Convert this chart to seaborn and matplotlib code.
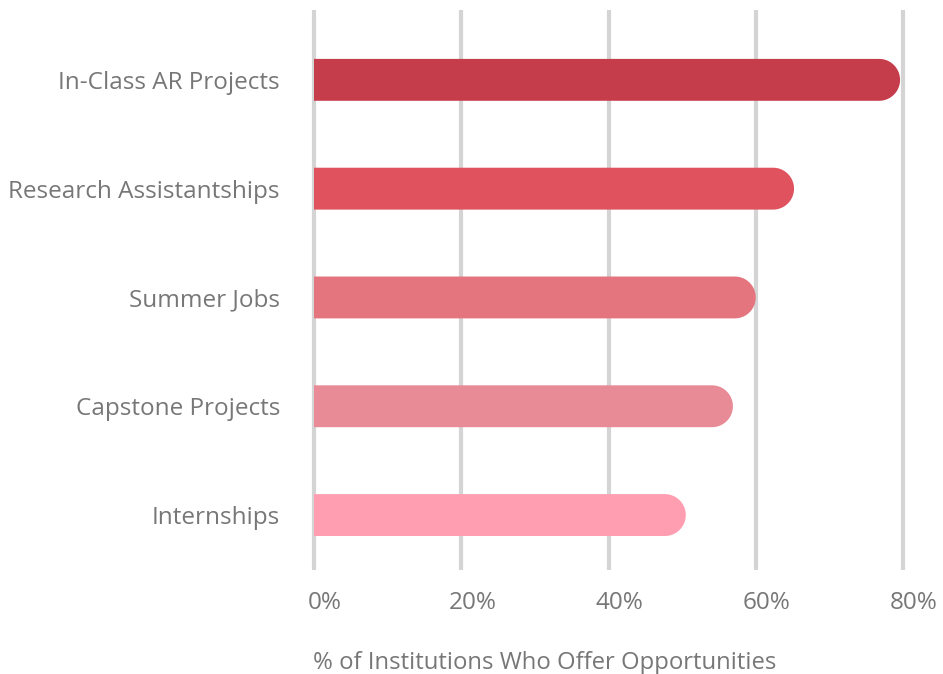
import numpy as np
import seaborn as sns
import matplotlib.pyplot as plt
import matplotlib.transforms as mtransforms
from matplotlib.patches import Polygon
import pandas as pd

# values
categories = [
    'In-Class AR Projects',
    'Research Assistantships',
    'Summer Jobs',
    'Capstone Projects',
    'Internships',
]
values = [79.6, 65.2, 60.0, 56.9, 50.5]
colors = ['#c53c4b', '#df525e', '#e4757f', '#e98b96', '#ff9eb0']
ticks = [0, 20, 40, 60, 80]

df = pd.DataFrame({'category': categories, 'value': values})

sns.set_theme(style='white')
plt.rcParams['font.family'] = ['Open Sans', 'DejaVu Sans']
text_color = '#777777'

fig = plt.figure(figsize=(9.43, 6.74), dpi=100)
ax = fig.add_axes([314 / 943, 1 - 570 / 674, (903 - 314) / 943, 560 / 674])

bar_h = 0.385
sns.barplot(data=df, x='value', y='category', hue='category', palette=colors,
            legend=False, width=bar_h, saturation=1, ax=ax, zorder=3)

ax.set_xlim(0, 80)
ax.set_ylim(4.505, -0.642)
ax.set_xticks(ticks)
ax.set_xticklabels([f'{t}%' for t in ticks])
ax.grid(axis='x', color='#d4d4d4', linewidth=3, zorder=0)
ax.grid(axis='y', visible=False)
ax.set_axisbelow(True)
for gl in ax.xaxis.get_gridlines():
    gl.set_clip_on(False)
    gl.set_solid_capstyle('butt')
for s in ax.spines.values():
    s.set_visible(False)
ax.tick_params(axis='both', length=0, labelsize=17.5, labelcolor=text_color)
ax.tick_params(axis='y', pad=24.5)
ax.tick_params(axis='x', pad=15)
ax.set_ylabel('')
ax.set_xlabel('')
fig.text(545 / 943, 1 - 663 / 674, '% of Institutions Who Offer Opportunities',
         fontsize=17.2, color=text_color, ha='center', va='center')

# shift x tick labels slightly right like the original
offset = mtransforms.ScaledTranslation(11 / 100, 0, fig.dpi_scale_trans)
for lbl in ax.get_xticklabels():
    lbl.set_transform(lbl.get_transform() + offset)

# round the right end of each bar (circle in pixels, ellipse in data units)
fig.canvas.draw()
px_per_unit_y = abs(ax.transData.transform((0, 1))[1] - ax.transData.transform((0, 0))[1])
px_per_unit_x = abs(ax.transData.transform((1, 0))[0] - ax.transData.transform((0, 0))[0])
theta = np.linspace(-np.pi / 2, np.pi / 2, 60)
bars = list(ax.patches)
for p, c in zip(bars, colors):
    w = p.get_width()
    y0 = p.get_y()
    h = p.get_height()
    yc = y0 + h / 2
    r_x = (h / 2) * px_per_unit_y / px_per_unit_x
    cx = w - r_x
    # arc goes from y0 + h (theta=-pi/2) round the right end to y0
    arc = np.column_stack([cx + r_x * np.cos(theta), yc - (h / 2) * np.sin(theta)])
    pts = np.vstack([[[0, y0 + h]], arc, [[0, y0]]])
    p.set_visible(False)
    ax.add_patch(Polygon(pts, closed=True, facecolor=c, edgecolor='none', zorder=3))

fig.savefig('out.png', dpi=100)
